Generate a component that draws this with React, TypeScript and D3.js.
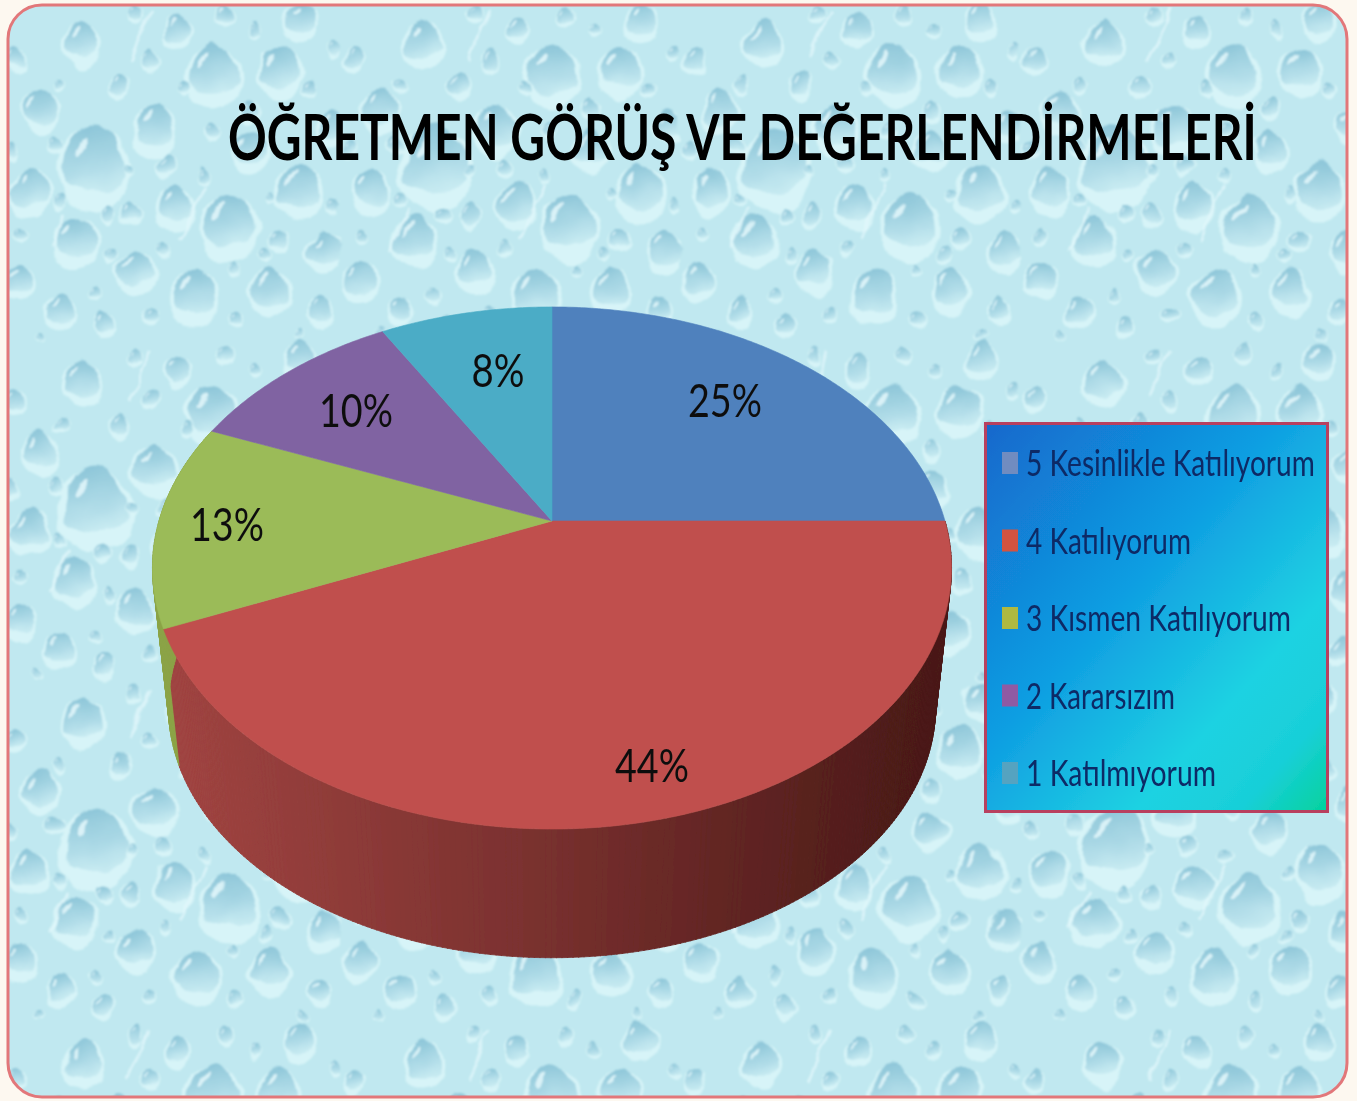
import React, { useLayoutEffect, useRef } from "react";
import * as d3 from "d3";

const titleText = "ÖĞRETMEN GÖRÜŞ VE DEĞERLENDİRMELERİ";
const categories = ["5 Kesinlikle Katılıyorum", "4 Katılıyorum", "3 Kısmen Katılıyorum", "2 Kararsızım", "1 Katılmıyorum"];
const values = [25, 43.5, 12.7, 10.5, 8.3];
const valueLabels = ["25%", "44%", "13%", "10%", "8%"];
const sliceColors = ["#4f81bd", "#c0504d", "#9bbb59", "#8064a2", "#4bacc6"];
const swatchColors = ["#6f8cc0", "#d3523f", "#b0b93f", "#8f5aa3", "#55a3c0"];
const wallColors = [null, ["#a04441", "#4a1a18"], ["#8ba346", "#8ba346"], null, null];

// layout only
const labelWidths = [74, 74, 74, 74, 53];
const labelCentres = [[725, 400], [652, 765], [227, 524], [356, 410], [498, 370]];
const legendWidths = [289, 165, 265, 149, 190];
// texture of water drops, one tile: x, y, r
const drops = [
  [95,165,32],[213,73,24],[83,42,18],[40,110,17],[155,128,20],[280,70,20],[330,125,14],[250,150,16],
  [178,30,12],[120,85,10],[300,20,15],[30,190,18],[175,205,18],[230,225,26],[300,190,22],[75,240,20],
  [135,270,17],[20,280,15],[195,295,22],[270,290,18],[325,250,16],[60,310,13],[250,110,9],[130,215,9],
  [15,60,10],[105,325,10],[165,165,8],[320,310,11],[225,15,8],[55,145,8],[280,240,9],[150,60,8],
  [60,85,6],[135,15,7],[255,30,6],[185,90,6],[310,90,7],[210,130,7],[130,170,5],[60,200,6],[205,175,6],
  [270,195,5],[105,215,7],[20,235,6],[110,255,6],[165,250,6],[265,255,6],[95,295,6],[235,320,7],[150,315,7],
  [300,335,5],[335,205,6],[10,150,7],[40,335,5],[235,270,5],[335,50,6],
];
const streaks = [[150,10,128,60],[415,40,395,105],[205,185,180,240],[68,210,50,250]];

const W = 1357, H = 1101;
const ax = 552, ay = 521, R = 393, S = 252.6, K = 0.18;
const bottomScale = 0.96, bottomY = 662;

function project(theta: number, r = 1, scale = 1, cy = ay): [number, number] {
  const u = Math.sin(theta) * r, v = Math.cos(theta) * r;
  const d = 1 + K * v;
  return [ax + (scale * R * u) / d, cy - (scale * S * v) / d];
}
const arcPoints = (a0: number, a1: number) => {
  const n = Math.max(2, Math.ceil(Math.abs(a1 - a0) / 0.01));
  return d3.range(n + 1).map((i) => project(a0 + ((a1 - a0) * i) / n));
};

function FitText({ x, y, width, anchor = "start", children, ...rest }: any) {
  const ref = useRef<SVGTextElement>(null);
  useLayoutEffect(() => {
    const el = ref.current!;
    const natural = el.getComputedTextLength();
    const sx = width / natural;
    const left = anchor === "middle" ? x - width / 2 : x;
    el.setAttribute("transform", `translate(${left},${y}) scale(${sx},1)`);
  }, [x, y, width, anchor]);
  return <text ref={ref} {...rest}>{children}</text>;
}

export default function App() {
  const pieGen = d3.pie<number>().sort(null).value((d) => d);
  const arcs = pieGen(values);
  const line = d3.line();
  const legendY = d3.scalePoint<string>().domain(categories).range([463, 773]);
  const wallX = d3.scaleLinear().domain([170, 935]).range([0, 1]).clamp(true);
  const strips: React.ReactNode[] = [];
  const step = 0.012;
  arcs.forEach((a, i) => {
    const c = wallColors[i];
    if (!c) return;
    const col = d3.scaleLinear<string>().domain([0, 0.45, 1]).range([c[0], d3.interpolateRgb(c[0], c[1])(0.42), c[1]]);
    for (let t = a.startAngle; t < a.endAngle; t += step) {
      const t2 = Math.min(t + step + 0.002, a.endAngle);
      const p = [project(t), project(t2), project(t2, 1, bottomScale, bottomY), project(t, 1, bottomScale, bottomY)] as [number, number][];
      const fill = col(wallX(p[0][0]));
      strips.push(<path key={`${i}-${t}`} d={line(p) + "Z"} fill={fill} stroke={fill} strokeWidth={0.8} />);
    }
  });
  const font = "Lato, 'Open Sans', sans-serif";
  return (
    <svg width={W} height={H} viewBox={`0 0 ${W} ${H}`} style={{ position: "absolute", left: 0, top: 0, display: "block" }}>
      <defs>
        <linearGradient id="drop" x1="0.35" y1="0" x2="0.55" y2="1">
          <stop offset="0" stopColor="#8cc5d8" />
          <stop offset="0.6" stopColor="#aedbe7" />
          <stop offset="1" stopColor="#c8ebf2" />
        </linearGradient>
        <pattern id="tile" width="340" height="340" patternUnits="userSpaceOnUse">
          <rect width="340" height="340" fill="#c0e8f0" />
          {drops.map(([x, y, r], i) => (
            <g key={i}>
              <ellipse cx={x} cy={y + r * 0.18} rx={r * 1.18} ry={r * 1.3} fill="#daf5f9" opacity={0.9} />
              <path d={`M${x - r},${y + r * 0.3} C${x - r},${y - r * 0.7} ${x - r * 0.35},${y - r * 1.2} ${x},${y - r * 1.2} C${x + r * 0.35},${y - r * 1.2} ${x + r},${y - r * 0.7} ${x + r},${y + r * 0.3} C${x + r},${y + r} ${x - r},${y + r} ${x - r},${y + r * 0.3}Z`} fill="url(#drop)" />
              <ellipse cx={x - r * 0.42} cy={y - r * 0.55} rx={r * 0.1} ry={r * 0.36} fill="#e4f8fc" opacity={0.85} transform={`rotate(35 ${x - r * 0.42} ${y - r * 0.55})`} />
            </g>
          ))}
          {streaks.map(([x1, y1, x2, y2], i) => (
            <line key={i} x1={x1} y1={y1} x2={x2} y2={y2} stroke="#e2f8fb" strokeWidth={2.5} opacity={0.8} />
          ))}
        </pattern>
        <filter id="water" x="0" y="0" width="100%" height="100%">
          <feTurbulence type="fractalNoise" baseFrequency="0.035" numOctaves="2" seed="4" result="n" />
          <feDisplacementMap in="SourceGraphic" in2="n" scale="14" xChannelSelector="R" yChannelSelector="G" />
          <feGaussianBlur stdDeviation="1.3" />
        </filter>
        <filter id="slight" x="-5%" y="-20%" width="110%" height="140%">
          <feGaussianBlur stdDeviation="0.55" />
        </filter>
        <clipPath id="frame"><rect x={8} y={5} width={1339} height={1092} rx={34} /></clipPath>
        <linearGradient id="legendFill" x1="0" y1="0" x2="1" y2="1">
          <stop offset="0" stopColor="#1468cc" />
          <stop offset="0.42" stopColor="#0f9ee2" />
          <stop offset="0.72" stopColor="#1fd2e2" />
          <stop offset="0.87" stopColor="#18cfd8" />
          <stop offset="1" stopColor="#03d29c" />
        </linearGradient>
      </defs>

      <rect width={W} height={H} fill="#fdf8f0" />
      <g clipPath="url(#frame)">
        <rect x={-20} y={-20} width={W + 40} height={H + 40} fill="url(#tile)" filter="url(#water)" />
      </g>
      <rect x={8} y={5} width={1339} height={1092} rx={34} fill="none" stroke="#e2777a" strokeWidth={3} />

      <FitText x={228} y={160} width={1029} fontFamily={font} fontWeight={700} fontSize={63} fill="#000" filter="url(#slight)">{titleText}</FitText>

      <g filter="url(#slight)">
        {strips}
        {arcs.map((a, i) => (
          <path key={i} d={`M${ax},${ay}` + line(arcPoints(a.startAngle, a.endAngle))!.replace("M", "L") + "Z"} fill={sliceColors[i]} stroke={sliceColors[i]} strokeWidth={0.6} />
        ))}
        {arcs.map((a, i) => (
          <FitText key={i} x={labelCentres[i][0]} y={labelCentres[i][1] + 17} width={labelWidths[i]} anchor="middle" fontFamily={font} fontSize={46} fill="#111">{valueLabels[i]}</FitText>
        ))}
      </g>

      <g filter="url(#slight)">
        <rect x={985.5} y={423.5} width={342} height={388} fill="url(#legendFill)" stroke="#b8405e" strokeWidth={3} />
        {categories.map((c, i) => {
          const y = legendY(c)!;
          return (
            <g key={c}>
              <rect x={1002} y={y - 11} width={16} height={22} fill={swatchColors[i]} />
              <FitText x={1026} y={y + 13} width={legendWidths[i]} fontFamily={font} fontSize={36} fill="#0a2a66">{c}</FitText>
            </g>
          );
        })}
      </g>
    </svg>
  );
}
